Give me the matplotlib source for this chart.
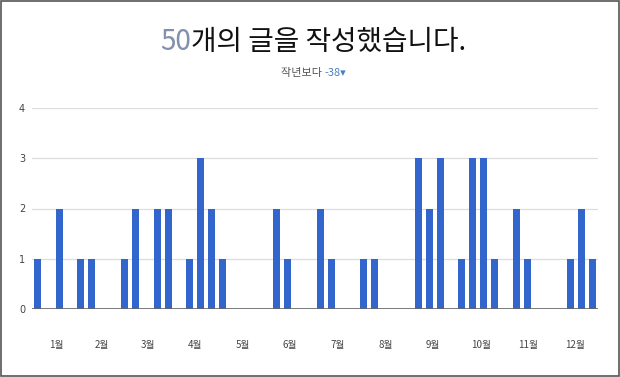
import numpy as np
import matplotlib.pyplot as plt

# 주별 글 수 (52주)
weeks = list(range(52))
counts = [1, 0, 2, 0, 1, 1, 0, 0, 1, 2, 0, 2, 2, 0, 1, 3, 2, 1, 0, 0,
          0, 0, 2, 1, 0, 0, 2, 1, 0, 0, 1, 1, 0, 0, 0, 3, 2, 3, 0, 1,
          3, 3, 1, 0, 2, 1, 0, 0, 0, 1, 2, 1]
month_labels = ['1월', '2월', '3월', '4월', '5월', '6월',
                '7월', '8월', '9월', '10월', '11월', '12월']
month_days = [31, 28, 31, 30, 31, 30, 31, 31, 30, 31, 30, 31]
total_posts = '50'
diff_text = '-38'

plt.rcParams['font.family'] = ['Noto Sans CJK KR', 'DejaVu Sans']

fig = plt.figure(figsize=(6.2, 3.77), dpi=100)
ax = fig.add_axes([32 / 620, 1 - 309 / 377, 566 / 620, 201 / 377])

ax.bar(weeks, counts, width=0.64, color='#3366cc', zorder=3)
ax.set_xlim(-0.5, 51.5)
ax.set_ylim(0, 4)
ax.set_yticks([0, 1, 2, 3, 4])
ax.grid(axis='y', color='#dddddd', linewidth=0.9, zorder=0)
ax.axhline(0, color='#666666', linewidth=1.2, zorder=4)

# 월 라벨은 각 달의 중간에
cum = np.cumsum([0] + month_days[:-1])
mids = (cum + np.array(month_days) / 2) / 7 - 0.5
ax.set_xticks(mids)
ax.set_xticklabels(month_labels)
ax.tick_params(axis='x', length=0, pad=22, labelsize=7, labelcolor='#444444')
ax.tick_params(axis='y', length=0, pad=5, labelsize=7, labelcolor='#444444')
for s in ax.spines.values():
    s.set_visible(False)
for lbl in ax.get_yticklabels():
    lbl.set_fontfamily(['DejaVu Sans'])

# 제목 (두 가지 색)
fig.canvas.draw()
r = fig.canvas.get_renderer()
t1 = fig.text(0, 1 - 42 / 377, total_posts, fontsize=20, color='#8090ad',
              va='center', ha='left')
t2 = fig.text(0, 1 - 42 / 377, '개의 글을 작성했습니다.', fontsize=20, color='#111111',
              va='center', ha='left')
w1 = t1.get_window_extent(r).width
w2 = t2.get_window_extent(r).width
x0 = (313 - (w1 + w2) / 2)
t1.set_x(x0 / 620)
t2.set_x((x0 + w1) / 620)

s1 = fig.text(0, 1 - 73 / 377, '작년보다 ', fontsize=8, color='#555555',
              va='center', ha='left')
s2 = fig.text(0, 1 - 73 / 377, diff_text + '▾', fontsize=8, color='#4a7fc1',
              va='center', ha='left', family=['Noto Sans CJK KR', 'DejaVu Sans'])
v1 = s1.get_window_extent(r).width
v2 = s2.get_window_extent(r).width
x1 = 314 - (v1 + v2) / 2
s1.set_x(x1 / 620)
s2.set_x((x1 + v1) / 620)

# 바깥 테두리
fig.patches.append(plt.Rectangle((0.001, 0.002), 0.997, 0.995, transform=fig.transFigure,
                                 fill=False, edgecolor='#555555', linewidth=1.2))

fig.savefig('out.png', dpi=100)
